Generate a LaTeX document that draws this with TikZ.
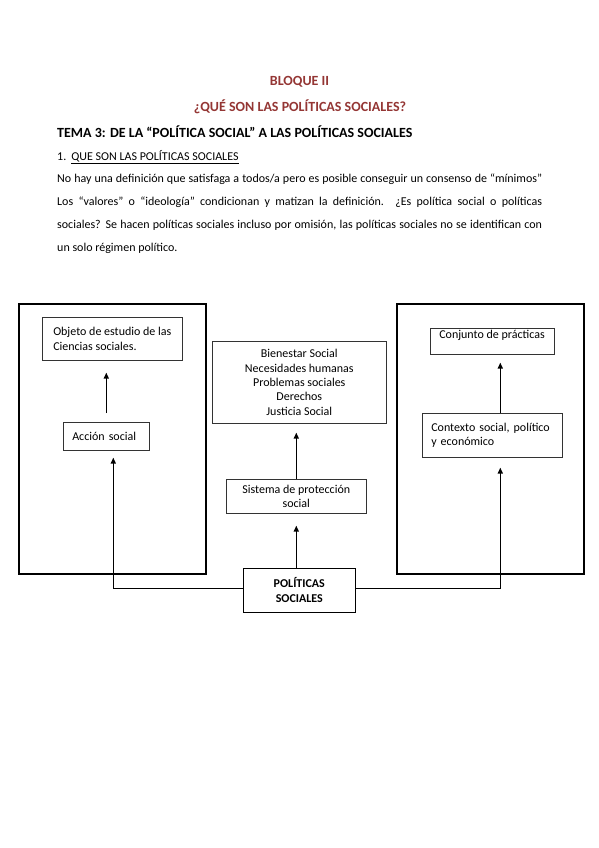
\documentclass[tikz,border=0pt]{standalone}
\usepackage{fontspec}
\setmainfont{Carlito}
\usepackage{tikz}
\usetikzlibrary{arrows.meta, positioning}
\tikzset{>=stealth}
\definecolor{titulorojo}{HTML}{943634}
\tikzset{
  marco/.style={draw, line width=1.5pt, minimum width=187pt, minimum height=270pt, anchor=north west},
  caja/.style={draw=black!80, line width=0.6pt, anchor=north west, inner xsep=9pt, font=\fontsize{12}{14.3}\selectfont},
  flecha/.style={line width=1.4pt, -{Triangle[length=6pt,width=5pt]}},
  titulo/.style={text=titulorojo, font=\fontsize{14}{16}\selectfont\bfseries}
}

\begin{document}
\begin{tikzpicture}[x=1pt,y=-1pt]
			\useasboundingbox (0,0) rectangle (599,848);
			\node[titulo] (bloque) at (299.5,82) {BLOQUE II};
			\node[titulo] (pregunta) at (300,107) {¿QUÉ SON LAS POLÍTICAS SOCIALES?};
			\node[anchor=west, inner sep=0pt, font=\fontsize{14}{16}\selectfont\bfseries] (tema) at (57,132) {TEMA 3: DE LA “POLÍTICA SOCIAL” A LAS POLÍTICAS SOCIALES};
			\node[anchor=west, inner sep=0pt, font=\fontsize{12}{14}\selectfont] (apartado) at (57,157) {1.\hspace{5pt}\underline{QUE SON LAS POLÍTICAS SOCIALES}};
			\node[anchor=north west, inner sep=0pt, text width=485pt, align=justify, font=\fontsize{12}{23.2}\selectfont] (texto) at (57,173.5)
				{No hay una definición que satisfaga a todos/a pero es posible conseguir un consenso de “mínimos”\linebreak
				Los “valores” o “ideología” condicionan y matizan la definición. ¿Es política social o políticas\linebreak
				sociales? Se hacen políticas sociales incluso por omisión, las políticas sociales no se identifican con\linebreak
				un solo régimen político.};
			\node[marco] (marcoizq) at (18,303) {};
			\node[marco] (marcoder) at (396,303) {};
			\node[caja, align=left, minimum width=140pt, minimum height=43pt] (objeto) at (42,317) {Objeto de estudio de las\\Ciencias sociales.};
			\node[caja, text width=68pt, align=left, minimum height=28pt] (accion) at (63,422) {Acción social};
			\node[caja, align=center, minimum width=174pt, minimum height=82pt] (bienestar) at (212,341) {Bienestar Social\\Necesidades humanas\\Problemas sociales\\Derechos\\Justicia Social};
			\node[caja, align=center, minimum width=140pt, minimum height=34pt] (sistema) at (226,479) {Sistema de protección\\social};
			\node[caja, align=center, minimum width=112pt, minimum height=44pt, draw=black, font=\fontsize{12}{15}\selectfont\bfseries] (politicas) at (243,568) {POLÍTICAS\\SOCIALES};
			\node[caja, align=left, minimum width=123pt, inner ysep=2pt, text height=8pt, text depth=14pt] (conjunto) at (430,328) {Conjunto de prácticas};
			\node[caja, text width=122pt, align=left, minimum height=44pt] (contexto) at (422,413) {Contexto social, político\\y económico};
			\draw[flecha, shorten <=9pt, shorten >=12pt] (accion.north) -- (accion.north |- objeto.south);
			\draw[flecha, shorten >=7pt] ([yshift=2pt]politicas.west) -| ([xshift=7pt]accion.south);
			\draw[flecha, shorten >=12pt] (sistema.south |- politicas.north) -- (sistema.south);
			\draw[flecha, shorten >=9pt] (sistema.north) -- (sistema.north |- bienestar.south);
			\draw[flecha, shorten >=10pt] ([yshift=2pt]politicas.east) -| ([xshift=8pt]contexto.south);
			\draw[flecha, shorten >=8pt] ([xshift=8pt]contexto.north) -- ([xshift=8pt]contexto.north |- conjunto.south);
		\end{tikzpicture}
\end{document}
